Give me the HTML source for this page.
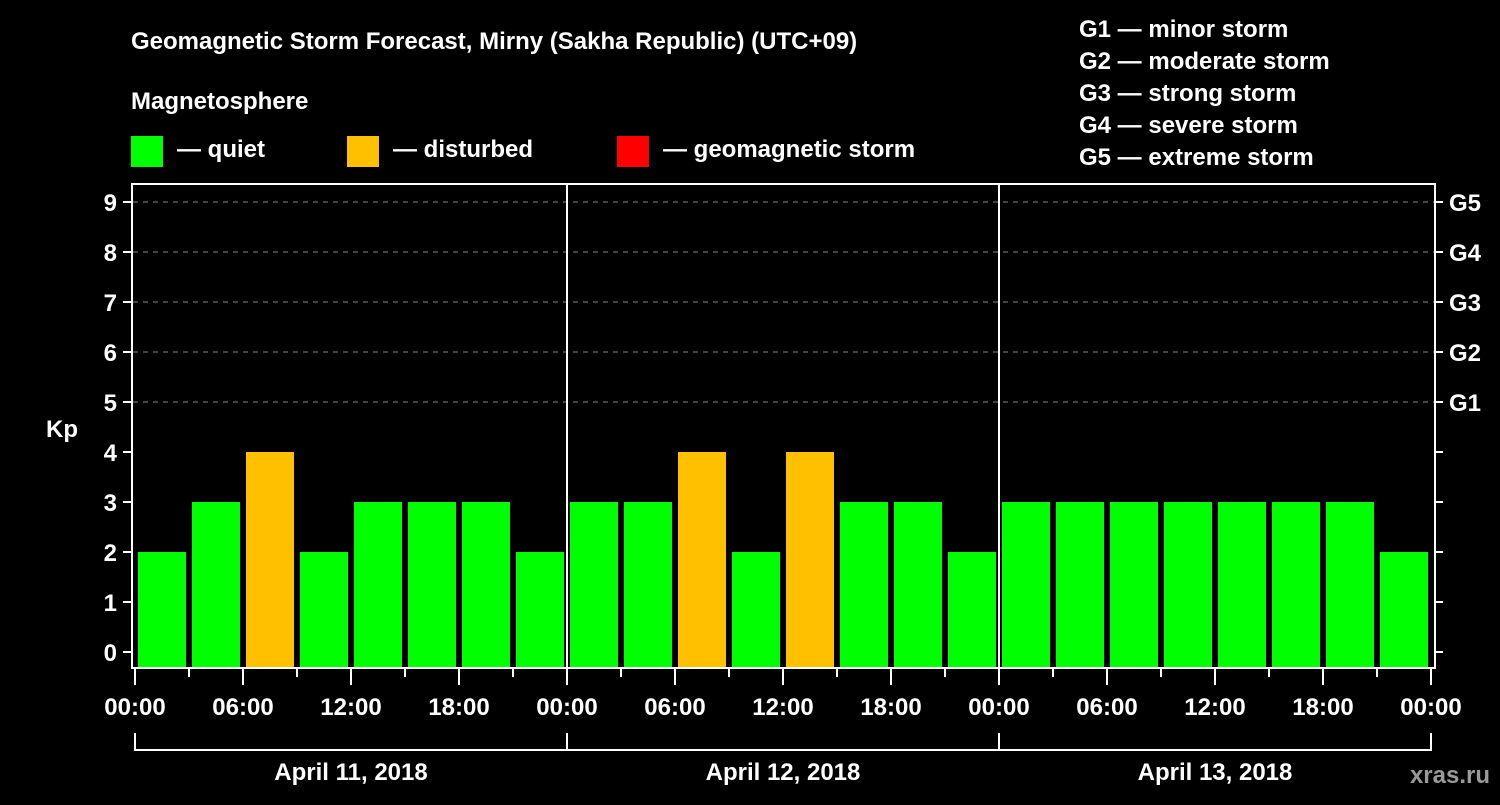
<!DOCTYPE html>
<html><head><meta charset="utf-8"><style>
body{margin:0;background:#000;}
svg text{font-family:"Liberation Sans",Arial,sans-serif;font-weight:bold;fill:#fff;}
</style></head><body>
<svg width="1500" height="800" viewBox="0 0 1500 800">
<text x="131" y="49" font-size="24">Geomagnetic Storm Forecast, Mirny (Sakha Republic) (UTC+09)</text>
<text x="131" y="109" font-size="24">Magnetosphere</text>
<rect x="131" y="136" width="32" height="31" fill="#00ff00"/>
<text x="177" y="157" font-size="24">— quiet</text>
<rect x="347" y="136" width="32" height="31" fill="#ffc000"/>
<text x="393" y="157" font-size="24">— disturbed</text>
<rect x="617" y="136" width="32" height="31" fill="#ff0000"/>
<text x="663" y="157" font-size="24">— geomagnetic storm</text>
<g font-size="24">
<text x="1079" y="37">G1 — minor storm</text>
<text x="1079" y="69">G2 — moderate storm</text>
<text x="1079" y="101">G3 — strong storm</text>
<text x="1079" y="133">G4 — severe storm</text>
<text x="1079" y="165">G5 — extreme storm</text>
</g>
<text x="62" y="437" font-size="24" text-anchor="middle">Kp</text>
<g id="grid"></g>
<g id="bars"></g>
<g id="axes"></g>
<rect x="132" y="184" width="1303" height="484" fill="none" stroke="#fff" stroke-width="2"/>
<text x="1490" y="783" font-size="24" text-anchor="end" fill="#888" style="fill:#9a9a9a">xras.ru</text>
</svg>
<script>
const kpValues=[2,3,4,2,3,3,3,2, 3,3,4,2,4,3,3,2, 3,3,3,3,3,3,3,2];
const dayLabels=["April 11, 2018","April 12, 2018","April 13, 2018"];
const hourLabels=["00:00","06:00","12:00","18:00"];
const gLabels=["G1","G2","G3","G4","G5"];
const NS="http://www.w3.org/2000/svg";
const x0=135, slot=54;
const yK=v=>652-50*v;
const xS=i=>x0+i*slot;
function mk(tag,attrs,parent){const e=document.createElementNS(NS,tag);for(const k in attrs)e.setAttribute(k,attrs[k]);parent.appendChild(e);return e;}
const grid=document.getElementById('grid'),bars=document.getElementById('bars'),axes=document.getElementById('axes');
for(let k=0;k<=9;k++){
  if(k>=5){const l=mk('line',{x1:133,x2:1434,y1:yK(k),y2:yK(k),stroke:'#888','stroke-dasharray':'5,5','stroke-width':1},grid);
  
  }
  const t=mk('line',{x1:123,x2:131,y1:yK(k),y2:yK(k),stroke:'#fff','stroke-width':2},axes);
  
  
  const t2=mk('line',{x1:1435,x2:1443,y1:yK(k),y2:yK(k),stroke:'#fff','stroke-width':2},axes);
  
  
  const tx=mk('text',{x:117,y:yK(k)+9,'font-size':24,'text-anchor':'end'},axes);tx.textContent=k;
  
  
  if(k>=5){const g=mk('text',{x:1449,y:yK(k)+9,'font-size':24},axes);g.textContent=gLabels[k-5];
  
  }
}
kpValues.forEach((v,i)=>{
  const c=v>=5?'#ff0000':(v>=4?'#ffc000':'#00ff00');
  const r=mk('rect',{x:xS(i)+3,y:yK(v),width:48,height:667-yK(v),fill:c},bars);
  
  
});
for(let d=1;d<dayLabels.length;d++){
  const l=mk('line',{x1:xS(d*8),x2:xS(d*8),y1:184,y2:668,stroke:'#fff','stroke-width':2},axes);
  
  
}
for(let i=0;i<=kpValues.length;i++){
  const major=i%2===0;
  const t=mk('line',{x1:xS(i),x2:xS(i),y1:669,y2:major?685:677,stroke:'#fff','stroke-width':2},axes);
  
  
  if(major){const tx=mk('text',{x:xS(i),y:715,'font-size':24,'text-anchor':'middle'},axes);
  tx.textContent=i===kpValues.length?hourLabels[0]:hourLabels[(i/2)%4];
  
  }
}
dayLabels.forEach((d,j)=>{
  const a=xS(j*8),b=xS(j*8+8);
  const p=mk('path',{d:`M${a} 733V750H${b}V733`,fill:'none',stroke:'#fff','stroke-width':2},axes);
  
  
  const t=mk('text',{x:(a+b)/2,y:780,'font-size':24,'text-anchor':'middle'},axes);t.textContent=d;
  
  
});
</script>
</body></html>
